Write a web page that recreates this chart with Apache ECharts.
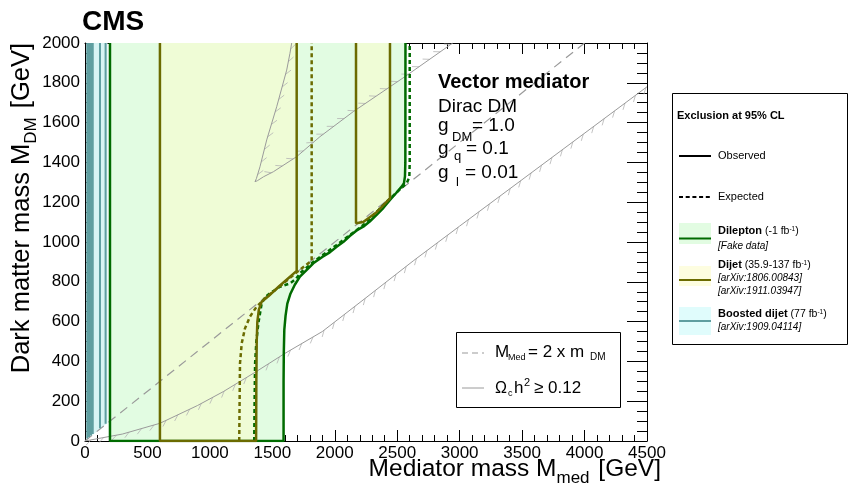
<!DOCTYPE html>
<html>
<head>
<meta charset="utf-8">
<script src="https://cdn.jsdelivr.net/npm/echarts@6.0.0/dist/echarts.min.js"></script>
<style>
html, body { margin: 0; padding: 0; background: #fff; }
#chart { width: 851px; height: 488px; }
</style>
</head>
<body>
<div id="chart"></div>
<script>
// axis ticks
var xTickValues = [0, 500, 1000, 1500, 2000, 2500, 3000, 3500, 4000, 4500];
var yTickValues = [0, 200, 400, 600, 800, 1000, 1200, 1400, 1600, 1800, 2000];

// dilepton contours [Mmed, MDM] (GeV)
var dileptonLeft = 200;
var dileptonObs = [[1590, 0], [1590, 300], [1592, 450], [1596, 560], [1606, 630], [1620, 690], [1645, 740],
  [1680, 785], [1721, 826], [1780, 862], [1828, 893], [1900, 925], [1960, 948], [2015, 976], [2070, 1001],
  [2120, 1030], [2175, 1058], [2228, 1077], [2280, 1103], [2335, 1136], [2390, 1172], [2442, 1211],
  [2490, 1245], [2535, 1278], [2554, 1295], [2562, 1330], [2565, 1400], [2566, 2000]];
var dileptonExp = [[1355, 0], [1358, 200], [1362, 390], [1372, 500], [1388, 591], [1415, 692], [1445, 725],
  [1481, 742], [1561, 775], [1641, 792], [1690, 815], [1721, 843], [1828, 900], [2015, 985], [2228, 1085],
  [2442, 1218], [2575, 1295], [2597, 1325], [2600, 1400], [2600, 2000]];

// dijet contours
var dijetLeft = 600;
var dijetObsLow = [[1370, 0], [1372, 300], [1375, 500], [1380, 600], [1392, 660], [1415, 700], [1468, 727],
  [1550, 775], [1695, 855], [1695, 2000]];
var dijetObsHigh = [[2170, 2000], [2170, 1094], [2228, 1100], [2335, 1150], [2442, 1219], [2442, 2000]];
var dijetExp = [[1235, 0], [1238, 200], [1241, 390], [1255, 491], [1281, 566], [1321, 625], [1374, 675],
  [1441, 717], [1520, 757], [1700, 850], [1815, 907], [1815, 2000]];

// boosted dijet contours
var boostedRegion = [[15, 2000], [15, 8], [180, 90], [180, 2000]];
var boostedLines = [18, 32, 48, 62, 120, 165];

// relic density and Mmed = 2 mDM
var relicLow = [[0, 0], [300, 35], [600, 89], [900, 178], [1107, 248], [1374, 350], [1600, 440], [1900, 550],
  [2250, 720], [2628, 905], [3000, 1080], [4500, 1780]];
var relicHigh = [[1655, 2000], [1641, 1948], [1615, 1864], [1535, 1680], [1455, 1513], [1401, 1378],
  [1372, 1318], [1361, 1303], [1380, 1308], [1430, 1328], [1508, 1353], [1695, 1429], [1881, 1529],
  [2148, 1655], [2562, 1831], [2945, 2000]];
var diagonal = [[0, 0], [4000, 2000]];

var GREEN = '#006b00', OLIVE = '#6b6b00', TEAL = '#5f9ea0', GRAY = '#9a9a9a';
var FONT = '"Liberation Sans", Arial, sans-serif';

function fillSeries(pts, color, z) {
  return {
    type: 'custom', data: [pts[0]], z: z, silent: true, animation: false,
    renderItem: function (params, api) {
      return { type: 'polygon', shape: { points: pts.map(function (p) { return api.coord(p); }) },
        style: { fill: color } };
    }
  };
}
function lineSeries(pts, color, width, type, z) {
  return {
    type: 'line', data: pts, symbol: 'none', silent: true, animation: false, z: z,
    lineStyle: { color: color, width: width, type: type || 'solid', cap: 'butt' }
  };
}
// small hatch ticks on one side of a relic line
function hatchSeries(pts, side) {
  return {
    type: 'custom', data: [pts[0]], z: 3, silent: true, animation: false,
    renderItem: function (params, api) {
      var px = pts.map(function (p) { return api.coord(p); });
      var kids = [], carry = 6;
      for (var i = 1; i < px.length; i++) {
        var dx = px[i][0] - px[i - 1][0], dy = px[i][1] - px[i - 1][1];
        var L = Math.sqrt(dx * dx + dy * dy);
        if (!L) continue;
        var tx = dx / L, ty = dy / L, nx = side * ty, ny = -side * tx;
        var ux = nx * 0.6 - tx * 0.8, uy = ny * 0.6 - ty * 0.8;
        for (var s = carry; s < L; s += 13) {
          var x0 = px[i - 1][0] + tx * s, y0 = px[i - 1][1] + ty * s;
          kids.push({ type: 'line', shape: { x1: x0, y1: y0, x2: x0 + ux * 7, y2: y0 + uy * 7 },
            style: { stroke: '#b4b4b4', lineWidth: 0.8 } });
          carry = s + 13 - L;
        }
        if (carry < 0) carry = 0;
      }
      return { type: 'group', children: kids };
    }
  };
}

// text helpers for the graphic layer
var mctx = document.createElement('canvas').getContext('2d');
function fontStr(p) {
  return (p.italic ? 'italic ' : '') + (p.bold ? 'bold ' : '') + p.size + 'px ' + FONT;
}
function run(x, y, parts, rot, alignRight) {
  rot = rot || 0;
  var c = Math.cos(rot), s = Math.sin(rot), widths = [], total = 0;
  parts.forEach(function (p) { mctx.font = fontStr(p); var w = mctx.measureText(p.text).width + (p.gap || 0); widths.push(w); total += w; });
  var off = alignRight ? -total : 0, els = [];
  parts.forEach(function (p, i) {
    var dy = (p.dy || 0) - 0.35 * p.size;
    els.push({ type: 'text', x: x + off * c + dy * s, y: y - off * s + dy * c, rotation: rot, z: 100,
      style: { text: p.text, font: fontStr(p), fill: p.color || '#000', align: 'left', verticalAlign: 'middle' } });
    off += widths[i];
  });
  return els;
}
function t(x, y, text, size, opt) {
  opt = opt || {};
  return run(x, y, [{ text: text, size: size, bold: opt.bold, italic: opt.italic }]);
}

var graphics = [];
function add(a) { graphics = graphics.concat(a); }

add(t(82, 32, 'CMS', 28, { bold: true }));
add(run(661, 478, [{ text: 'Mediator mass M', size: 24.5 }, { text: 'med', size: 17, dy: 6, gap: 2 }, { text: ' [GeV]', size: 24.5 }], 0, true));
add(run(31, 43, [{ text: 'Dark matter mass M', size: 25.5 }, { text: 'DM', size: 17, dy: 6, gap: 2 }, { text: ' [GeV]', size: 25.5 }], Math.PI / 2, true));

// model text
add(t(438, 89, 'Vector mediator', 20, { bold: true }));
add(t(438, 113, 'Dirac DM', 19));
add(t(438, 132, 'g', 19)); add(t(452, 142, 'DM', 13)); add(t(472, 132, '= 1.0', 19));
add(t(438, 155, 'g', 19)); add(t(454, 161, 'q', 13)); add(t(466, 155, '= 0.1', 19));
add(t(438, 179, 'g', 19)); add(t(456, 187, 'l', 13)); add(t(465, 179, '= 0.01', 19));

// inner legend
graphics.push({ type: 'rect', z: 99, shape: { x: 456.5, y: 332.5, width: 164, height: 75 }, style: { fill: '#fff', stroke: '#000', lineWidth: 1 } });
graphics.push({ type: 'line', z: 100, shape: { x1: 462, y1: 353, x2: 484, y2: 353 }, style: { stroke: GRAY, lineWidth: 1.2, lineDash: [6, 4] } });
graphics.push({ type: 'line', z: 100, shape: { x1: 462, y1: 388, x2: 484, y2: 388 }, style: { stroke: GRAY, lineWidth: 1 } });
add(t(495, 358, 'M', 17)); add(t(508, 361, 'Med', 9)); add(t(528, 358, '= 2 x m', 17)); add(t(590, 361, 'DM', 10));
add(t(495, 394, '\u03A9', 16)); add(t(508, 397, 'c', 9)); add(t(514, 394, 'h', 17)); add(t(524, 387, '2', 11)); add(t(534, 394, '\u2265 0.12', 17));

// right legend
graphics.push({ type: 'rect', z: 99, shape: { x: 672.5, y: 93.5, width: 175, height: 251 }, style: { fill: '#fff', stroke: '#000', lineWidth: 1 } });
add(t(677, 120, 'Exclusion at 95% CL', 11, { bold: true }));
graphics.push({ type: 'line', z: 100, shape: { x1: 679, y1: 156, x2: 711, y2: 156 }, style: { stroke: '#000', lineWidth: 2 } });
graphics.push({ type: 'line', z: 100, shape: { x1: 679, y1: 197, x2: 711, y2: 197 }, style: { stroke: '#000', lineWidth: 2, lineDash: [4, 2.7] } });
add(t(718, 160, 'Observed', 11));
add(t(718, 201, 'Expected', 11));
var boxes = [[223, 21, '#e2fce2', GREEN, 238.5], [266, 20, '#fdfde0', OLIVE, 280], [307, 28, '#e0fcfc', TEAL, 321]];
boxes.forEach(function (b) {
  graphics.push({ type: 'rect', z: 100, shape: { x: 679, y: b[0], width: 32, height: b[1] }, style: { fill: b[2] } });
  graphics.push({ type: 'line', z: 100, shape: { x1: 679, y1: b[4], x2: 711, y2: b[4] }, style: { stroke: b[3], lineWidth: 2 } });
});
add(run(718, 235, [{ text: 'Dilepton', size: 11, bold: true }, { text: ' (-1 fb', size: 10.5 }, { text: '-1', size: 6.5, dy: -4 }, { text: ')', size: 10.5 }]));
add(t(718, 250, '[Fake data]', 10, { italic: true }));
add(run(718, 269, [{ text: 'Dijet', size: 11, bold: true }, { text: ' (35.9-137 fb', size: 10.5 }, { text: '-1', size: 6.5, dy: -4 }, { text: ')', size: 10.5 }]));
add(t(718, 282, '[arXiv:1806.00843]', 10, { italic: true }));
add(t(718, 295, '[arXiv:1911.03947]', 10, { italic: true }));
add(run(718, 318, [{ text: 'Boosted dijet', size: 11, bold: true }, { text: ' (77 fb', size: 10.5 }, { text: '-1', size: 6.5, dy: -4 }, { text: ')', size: 10.5 }]));
add(t(718, 331, '[arXiv:1909.04114]', 10, { italic: true }));

// fills
var dileptonFill = [[dileptonLeft, 0], [dileptonLeft, 2000]].concat(dileptonObs.slice().reverse());
var dijetFillA = [[dijetLeft, 0], [dijetLeft, 2000]].concat(dijetObsLow.slice().reverse());

var series = [
  fillSeries(dileptonFill, '#e2fce2', 1),
  fillSeries(boostedRegion, '#d8f4f4', 1),
  fillSeries(dijetFillA, '#effcd6', 1.5),
  fillSeries(dijetObsHigh, '#effcd6', 1.5),
  lineSeries(diagonal, GRAY, 1.2, [9, 6], 3),
  lineSeries(relicLow, GRAY, 1, 'solid', 3),
  lineSeries(relicHigh, GRAY, 1, 'solid', 3),
  hatchSeries(relicLow, -1),
  hatchSeries(relicHigh, 1)
];
boostedLines.forEach(function (m) {
  series.push(lineSeries([[m, 2000], [m, m * 0.5 + 4]], TEAL, 2, 'solid', 4));
});
series.push(lineSeries([[dileptonLeft, 2000], [dileptonLeft, 0]].concat(dileptonObs), GREEN, 2.5, 'solid', 4));
series.push(lineSeries(dileptonExp, GREEN, 2.5, [4, 3], 4));
series.push(lineSeries([[dijetLeft, 2000], [dijetLeft, 0]].concat(dijetObsLow), OLIVE, 2.5, 'solid', 5));
series.push(lineSeries(dijetObsHigh, OLIVE, 2.5, 'solid', 5));
series.push(lineSeries(dijetExp, OLIVE, 2.5, [4, 3], 5));

function plain(v) { return String(v); }
function xAxisDef(pos, labels) {
  return {
    type: 'value', position: pos, min: xTickValues[0], max: xTickValues[xTickValues.length - 1],
    interval: xTickValues[1] - xTickValues[0],
    axisLine: { show: true, onZero: false, lineStyle: { color: '#000', width: 1 } },
    axisTick: { show: true, inside: true, length: 11, lineStyle: { color: '#000' } },
    minorTick: { show: true, splitNumber: 5, length: 6, lineStyle: { color: '#000' } },
    splitLine: { show: false },
    axisLabel: { show: labels, color: '#000', fontSize: 17, fontFamily: FONT, margin: 4, formatter: plain }
  };
}
function yAxisDef(pos, labels) {
  return {
    type: 'value', position: pos, min: yTickValues[0], max: yTickValues[yTickValues.length - 1],
    interval: yTickValues[1] - yTickValues[0],
    axisLine: { show: true, onZero: false, lineStyle: { color: '#000', width: 1 } },
    axisTick: { show: true, inside: true, length: 20, lineStyle: { color: '#000' } },
    minorTick: { show: true, splitNumber: 4, length: 10, lineStyle: { color: '#000' } },
    splitLine: { show: false },
    axisLabel: { show: labels, color: '#000', fontSize: 17, fontFamily: FONT, margin: 5, formatter: plain }
  };
}

var chart = echarts.init(document.getElementById('chart'), null, { renderer: 'canvas' });
chart.setOption({
  animation: false,
  backgroundColor: '#fff',
  grid: { left: 85, top: 43, width: 562, height: 398, containLabel: false, outerBoundsMode: 'none' },
  xAxis: [xAxisDef('bottom', true), xAxisDef('top', false)],
  yAxis: [yAxisDef('left', true), yAxisDef('right', false)],
  series: series,
  graphic: graphics
});
</script>
</body>
</html>
